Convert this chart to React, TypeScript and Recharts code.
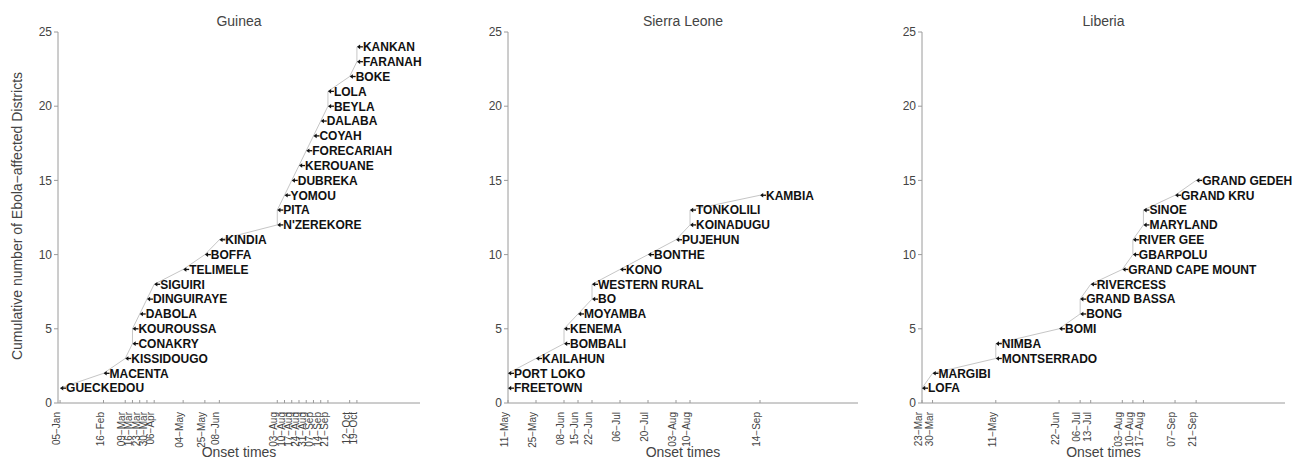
import React from 'react';
import { ComposedChart, Line, XAxis, YAxis, LabelList } from 'recharts';

const FONT = '"Liberation Sans", Arial, Helvetica, sans-serif';
const AXIS_COLOR = '#9a9a9a';
const TEXT_COLOR = '#444';
const PATH_COLOR = '#c6c6c6';

// Guinea: districts in order of first reported onset
const guineaDistricts = [
  'GUECKEDOU', 'MACENTA', 'KISSIDOUGO', 'CONAKRY', 'KOUROUSSA', 'DABOLA',
  'DINGUIRAYE', 'SIGUIRI', 'TELIMELE', 'BOFFA', 'KINDIA', "N'ZEREKORE",
  'PITA', 'YOMOU', 'DUBREKA', 'KEROUANE', 'FORECARIAH', 'COYAH', 'DALABA',
  'BEYLA', 'LOLA', 'BOKE', 'FARANAH', 'KANKAN',
];
const guineaOnsets = [
  '05-Jan', '16-Feb', '09-Mar', '16-Mar', '16-Mar', '23-Mar', '30-Mar',
  '06-Apr', '04-May', '25-May', '08-Jun', '03-Aug', '03-Aug', '10-Aug',
  '17-Aug', '24-Aug', '31-Aug', '07-Sep', '14-Sep', '21-Sep', '21-Sep',
  '12-Oct', '19-Oct', '19-Oct',
];
const guineaCounts = [
  1, 2, 3, 4, 5, 6, 7, 8, 9, 10, 11, 12, 13, 14, 15, 16, 17, 18, 19, 20, 21,
  22, 23, 24,
];
const guineaRange = ['03-Jan', '19-Dec'];

// Sierra Leone
const sierraLeoneDistricts = [
  'FREETOWN', 'PORT LOKO', 'KAILAHUN', 'BOMBALI', 'KENEMA', 'MOYAMBA', 'BO',
  'WESTERN RURAL', 'KONO', 'BONTHE', 'PUJEHUN', 'KOINADUGU', 'TONKOLILI',
  'KAMBIA',
];
const sierraLeoneOnsets = [
  '11-May', '11-May', '25-May', '08-Jun', '08-Jun', '15-Jun', '22-Jun',
  '22-Jun', '06-Jul', '20-Jul', '03-Aug', '10-Aug', '10-Aug', '14-Sep',
];
const sierraLeoneCounts = [1, 2, 3, 4, 5, 6, 7, 8, 9, 10, 11, 12, 13, 14];
const sierraLeoneRange = ['11-May', '02-Nov'];

// Liberia
const liberiaDistricts = [
  'LOFA', 'MARGIBI', 'MONTSERRADO', 'NIMBA', 'BOMI', 'BONG', 'GRAND BASSA',
  'RIVERCESS', 'GRAND CAPE MOUNT', 'GBARPOLU', 'RIVER GEE', 'MARYLAND',
  'SINOE', 'GRAND KRU', 'GRAND GEDEH',
];
const liberiaOnsets = [
  '23-Mar', '30-Mar', '11-May', '11-May', '22-Jun', '06-Jul', '06-Jul',
  '13-Jul', '03-Aug', '10-Aug', '10-Aug', '17-Aug', '17-Aug', '07-Sep',
  '21-Sep',
];
const liberiaCounts = [1, 2, 3, 4, 5, 6, 7, 8, 9, 10, 11, 12, 13, 14, 15];
const liberiaRange = ['23-Mar', '19-Nov'];

const countTicks = [0, 5, 10, 15, 20, 25];

const MONTHS = ['Jan', 'Feb', 'Mar', 'Apr', 'May', 'Jun', 'Jul', 'Aug', 'Sep', 'Oct', 'Nov', 'Dec'];
const MONTH_START = [0, 31, 59, 90, 120, 151, 181, 212, 243, 273, 304, 334];

// "dd-Mon" (2014) -> day of year
function dayOfYear(label: string): number {
  const [d, m] = label.split('-');
  return MONTH_START[MONTHS.indexOf(m)] + Number(d);
}

// day of year -> "dd−Mon"
function formatDay(day: number): string {
  let m = 11;
  while (m > 0 && MONTH_START[m] >= day) m -= 1;
  const d = day - MONTH_START[m];
  return `${String(d).padStart(2, '0')}\u2212${MONTHS[m]}`;
}

type PanelSpec = {
  title: string;
  districts: string[];
  onsets: string[];
  counts: number[];
  range: string[];
  left: number;
  right: number;
};

const panels: PanelSpec[] = [
  { title: 'Guinea', districts: guineaDistricts, onsets: guineaOnsets, counts: guineaCounts, range: guineaRange, left: 58, right: 420 },
  { title: 'Sierra Leone', districts: sierraLeoneDistricts, onsets: sierraLeoneOnsets, counts: sierraLeoneCounts, range: sierraLeoneRange, left: 508, right: 858 },
  { title: 'Liberia', districts: liberiaDistricts, onsets: liberiaOnsets, counts: liberiaCounts, range: liberiaRange, left: 922, right: 1285 },
];

const PLOT_TOP = 32;
const PLOT_BOTTOM = 403;
const CHART_H = 460;
const Y_AXIS_W = 50;
const RIGHT_PAD = 14;

// Rotated date label with a short inward tick mark
function DateTick(props: any) {
  const { x, y, payload } = props;
  return (
    <g>
      <line x1={x} x2={x} y1={y} y2={y - 3} stroke={AXIS_COLOR} strokeWidth={1} />
      <text
        transform={`translate(${x},${y + 9}) rotate(-90)`}
        textAnchor="end"
        fontSize={10}
        fontFamily={FONT}
        fill={TEXT_COLOR}
      >
        {formatDay(payload.value)}
      </text>
    </g>
  );
}

// Left-pointing arrow at the point followed by the district name
function ArrowLabel(props: any) {
  const { x, y, value } = props;
  if (x == null || y == null) return null;
  return (
    <g>
      <path d={`M${x},${y} L${x + 3.2},${y - 2.3} L${x + 3.2},${y + 2.3} Z`} fill="#111" />
      <line x1={x + 2.5} x2={x + 6} y1={y} y2={y} stroke="#111" strokeWidth={1.3} />
      <text
        x={x + 6}
        y={y}
        dy="0.36em"
        fontSize={12}
        fontWeight="bold"
        fontFamily={FONT}
        fill="#111"
      >
        {value}
      </text>
    </g>
  );
}

function Panel({ p }: { p: PanelSpec }) {
  const data = p.districts.map((name, i) => ({
    name,
    x: dayOfYear(p.onsets[i]),
    y: p.counts[i],
  }));
  const ticks = Array.from(new Set(data.map((d) => d.x)));
  const width = Y_AXIS_W + (p.right - p.left) + RIGHT_PAD;
  return (
    <div style={{ position: 'absolute', left: p.left - Y_AXIS_W, top: 0 }}>
      <ComposedChart
        width={width}
        height={CHART_H}
        data={data}
        margin={{ top: PLOT_TOP, right: RIGHT_PAD, bottom: 0, left: 0 }}
      >
        <XAxis
          dataKey="x"
          type="number"
          domain={[dayOfYear(p.range[0]), dayOfYear(p.range[1])]}
          ticks={ticks}
          interval={0}
          tickSize={0}
          tickMargin={0}
          tickLine={false}
          height={CHART_H - PLOT_BOTTOM}
          axisLine={{ stroke: AXIS_COLOR }}
          tick={<DateTick />}
          allowDataOverflow
        />
        <YAxis
          type="number"
          domain={[0, 25]}
          ticks={countTicks}
          interval={0}
          width={Y_AXIS_W}
          tickSize={4}
          tickMargin={2}
          axisLine={{ stroke: AXIS_COLOR }}
          tickLine={{ stroke: AXIS_COLOR }}
          tick={{ fontSize: 12, fill: TEXT_COLOR, fontFamily: FONT }}
        />
        <Line
          dataKey="y"
          type="linear"
          stroke={PATH_COLOR}
          strokeWidth={1}
          dot={false}
          activeDot={false}
          isAnimationActive={false}
        >
          <LabelList dataKey="name" content={<ArrowLabel />} />
        </Line>
      </ComposedChart>
    </div>
  );
}

export default function App() {
  return (
    <div
      style={{
        position: 'absolute',
        left: 0,
        top: 0,
        width: 1292,
        height: 460,
        background: '#fff',
        overflow: 'hidden',
      }}
    >
      <style>{'.recharts-surface { overflow: visible; }'}</style>
      {panels.map((p) => (
        <Panel key={p.title} p={p} />
      ))}
      <svg
        width={1292}
        height={460}
        style={{ position: 'absolute', left: 0, top: 0, pointerEvents: 'none' }}
      >
        {panels.map((p) => (
          <g key={p.title}>
            <text
              x={(p.left + p.right) / 2}
              y={26}
              textAnchor="middle"
              fontSize={14}
              fontFamily={FONT}
              fill={TEXT_COLOR}
            >
              {p.title}
            </text>
            <text
              x={(p.left + p.right) / 2}
              y={457}
              textAnchor="middle"
              fontSize={14}
              fontFamily={FONT}
              fill={TEXT_COLOR}
            >
              Onset times
            </text>
          </g>
        ))}
        <text
          transform="translate(22,216) rotate(-90)"
          textAnchor="middle"
          fontSize={14}
          fontFamily={FONT}
          fill={TEXT_COLOR}
        >
          Cumulative number of Ebola{'\u2212'}affected Districts
        </text>
      </svg>
    </div>
  );
}
